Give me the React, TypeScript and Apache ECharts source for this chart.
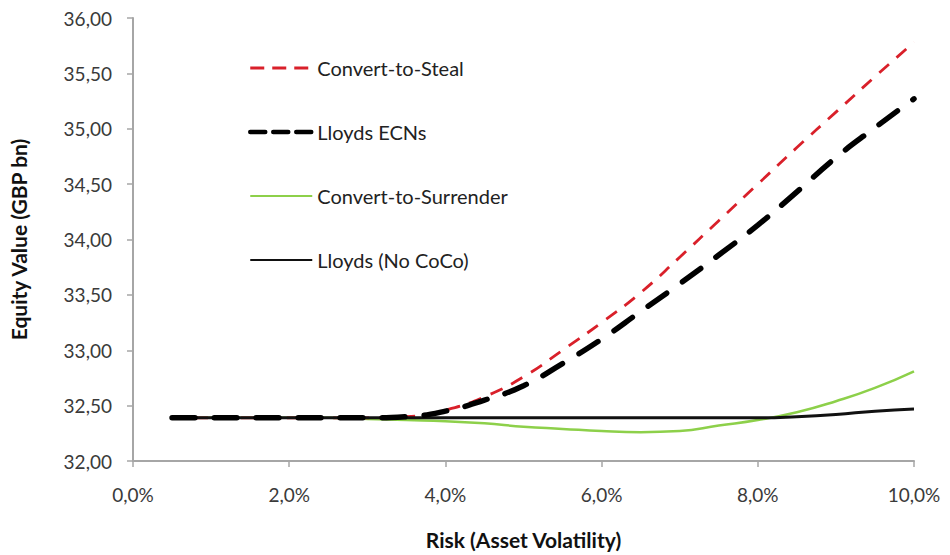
import React, { useEffect, useRef } from "react";
import * as echarts from "echarts";

const xValues = [0.5, 1.0, 1.5, 2.0, 2.5, 3.0, 3.5, 4.0, 4.5, 5.0, 5.5, 6.0, 6.5, 7.0, 7.5, 8.0, 8.5, 9.0, 9.5, 10.0];
const convertToSteal = [32.39, 32.39, 32.39, 32.39, 32.39, 32.39, 32.40, 32.46, 32.58, 32.76, 33.0, 33.25, 33.52, 33.84, 34.17, 34.5, 34.83, 35.15, 35.47, 35.78];
const lloydsECNs = [32.39, 32.39, 32.39, 32.39, 32.39, 32.39, 32.40, 32.45, 32.55, 32.68, 32.88, 33.1, 33.35, 33.6, 33.86, 34.13, 34.43, 34.74, 35.01, 35.27];
const convertToSurrender = [32.39, 32.39, 32.39, 32.39, 32.39, 32.38, 32.37, 32.36, 32.34, 32.31, 32.29, 32.27, 32.26, 32.27, 32.32, 32.37, 32.44, 32.54, 32.66, 32.81];
const lloydsNoCoCo = [32.39, 32.39, 32.39, 32.39, 32.39, 32.39, 32.39, 32.39, 32.39, 32.39, 32.39, 32.39, 32.39, 32.39, 32.39, 32.39, 32.40, 32.42, 32.45, 32.47];
const seriesNames = ["Convert-to-Steal", "Lloyds ECNs", "Convert-to-Surrender", "Lloyds (No CoCo)"];

const pairs = (ys: number[]) => xValues.map((x, i) => [x, ys[i]]);
const FONT = "Lato";

export default function App() {
  const ref = useRef<HTMLDivElement>(null);
  useEffect(() => {
    document.body.style.margin = "0";
    const chart = echarts.init(ref.current!, null, { renderer: "svg" });
    chart.setOption({
      animation: false,
      backgroundColor: "#ffffff",
      grid: { left: 124, right: 36, top: 18, bottom: 84 },
      legend: {
        orient: "vertical",
        left: 243,
        top: 53,
        itemWidth: 62,
        itemHeight: 18,
        itemGap: 44,
        data: [
          { name: seriesNames[0], lineStyle: { type: [14, 8], width: 3 } },
          { name: seriesNames[1], lineStyle: { type: [15, 8], width: 4.5 } },
          { name: seriesNames[2] },
          { name: seriesNames[3] },
        ],
        itemStyle: { opacity: 0 },
        textStyle: { fontFamily: FONT, fontSize: 20, color: "#222", lineHeight: 18, padding: [0, 0, 0, 0] },
      },
      xAxis: {
        type: "value",
        min: 0,
        max: 10,
        interval: 2,
        name: "Risk (Asset Volatility)",
        nameLocation: "middle",
        nameGap: 68,
        nameTextStyle: { fontFamily: FONT, fontSize: 21, fontWeight: "bold", color: "#111" },
        axisLine: { lineStyle: { color: "#a6a6a6", width: 2 } },
        axisTick: { show: true, length: 6, lineStyle: { color: "#a6a6a6", width: 1.5 } },
        axisLabel: {
          margin: 24,
          fontFamily: FONT,
          fontSize: 19,
          color: "#3a3a3a",
          formatter: (v: number) => v.toFixed(1).replace(".", ",") + "%",
        },
        splitLine: { show: false },
      },
      yAxis: {
        type: "value",
        min: 32,
        max: 36,
        interval: 0.5,
        name: "Equity Value (GBP bn)",
        nameLocation: "middle",
        nameGap: 104,
        nameTextStyle: { fontFamily: FONT, fontSize: 21, fontWeight: "bold", color: "#111" },
        axisLine: { show: true, lineStyle: { color: "#a6a6a6", width: 2 } },
        axisTick: { show: true, length: 6, lineStyle: { color: "#a6a6a6", width: 1.5 } },
        axisLabel: {
          margin: 21,
          fontFamily: FONT,
          fontSize: 19,
          color: "#3a3a3a",
          formatter: (v: number) => v.toFixed(2).replace(".", ","),
        },
        splitLine: { show: false },
      },
      series: [
        {
          name: "Convert-to-Surrender",
          type: "line",
          data: pairs(convertToSurrender),
          symbol: "none",
          smooth: true,
          z: 1,
          lineStyle: { color: "#8dd04a", width: 2.5 },
          itemStyle: { color: "#8dd04a" },
        },
        {
          name: "Convert-to-Steal",
          type: "line",
          data: pairs(convertToSteal),
          symbol: "none",
          smooth: true,
          z: 2,
          lineStyle: { color: "#d9202a", width: 2.8, type: [13, 10] },
          itemStyle: { color: "#d9202a" },
        },
        {
          name: "Lloyds (No CoCo)",
          type: "line",
          data: pairs(lloydsNoCoCo),
          symbol: "none",
          smooth: true,
          z: 3,
          lineStyle: { color: "#111111", width: 3 },
          itemStyle: { color: "#111111" },
        },
        {
          name: "Lloyds ECNs",
          type: "line",
          data: pairs(lloydsECNs),
          symbol: "none",
          smooth: true,
          z: 4,
          lineStyle: { color: "#000000", width: 5.5, type: [23, 19], cap: "round" },
          itemStyle: { color: "#000000" },
        },
      ],
    });
    return () => chart.dispose();
  }, []);
  return <div ref={ref} style={{ width: 950, height: 555 }} />;
}
